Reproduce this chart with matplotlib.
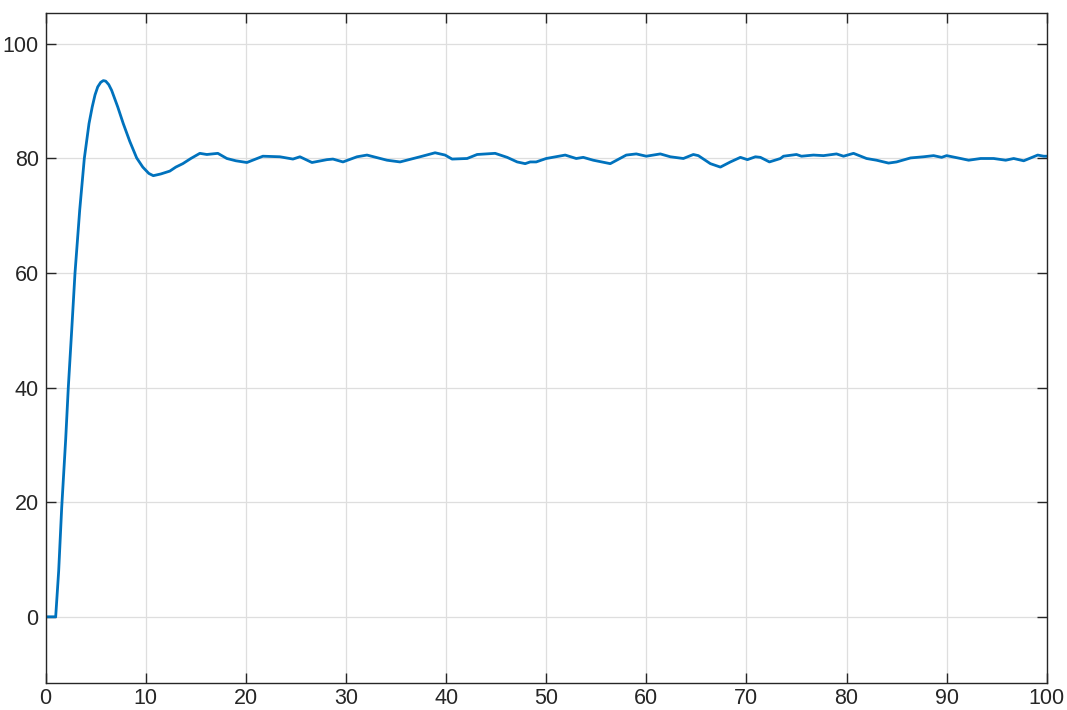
import numpy as np
import matplotlib.pyplot as plt

# step response samples (time, output)
t = [0, 1.0, 1.3, 1.6, 2.0, 2.26, 2.6, 2.93, 3.4, 3.86, 4.33, 4.65, 4.93, 5.2,
     5.5, 5.76, 6.0, 6.3, 6.59, 7.2, 7.75, 8.4, 9.09, 9.7, 10.3, 10.75, 11.5,
     12.4, 13.0, 13.7,
     14.5, 15.4, 16.1, 17.2, 18.1, 19.0, 20.1, 21.7, 23.4, 24.7, 25.4, 26.6,
     28.1, 28.7, 29.7, 31.1, 32.1, 34.1, 35.4, 37.4, 38.9, 39.9, 40.6, 42.1,
     43.1, 44.9, 46.1, 47.1, 47.9, 48.4, 49.0, 50.0, 51.9, 53.0, 53.7, 54.7,
     56.4, 58.0, 59.0, 60.0, 61.4, 62.4, 63.7, 64.7, 65.2, 66.4, 67.4, 68.4,
     69.4, 70.1, 70.9, 71.4, 72.3, 73.4, 73.7, 75.0, 75.5, 76.7, 77.7, 79.0,
     79.7, 80.7, 82.0, 83.0, 84.2, 85.0, 86.4, 87.7, 88.7, 89.5, 90.0, 91.4,
     92.2, 93.4, 94.7, 95.9, 96.7, 97.7, 99.1, 99.7, 100]
y = [0, 0, 8, 19, 31, 40, 50, 60, 71, 80, 86.1, 89.0, 91.1, 92.5,
     93.3, 93.6, 93.5, 92.9, 91.9, 89.0, 86.1, 83.0, 80.1, 78.5, 77.4, 77.0, 77.3,
     77.8, 78.5, 79.1,
     80.0, 80.9, 80.7, 80.9, 80.0, 79.6, 79.3, 80.4, 80.3, 79.9, 80.3, 79.3,
     79.8, 79.9, 79.4, 80.3, 80.6, 79.7, 79.4, 80.3, 81.0, 80.6, 79.9, 80.0,
     80.7, 80.9, 80.2, 79.4, 79.1, 79.4, 79.4, 80.0, 80.6, 80.0, 80.2, 79.7,
     79.1, 80.6, 80.8, 80.4, 80.8, 80.3, 80.0, 80.7, 80.5, 79.1, 78.5, 79.4,
     80.2, 79.8, 80.3, 80.2, 79.4, 80.0, 80.4, 80.7, 80.4, 80.6, 80.5, 80.8,
     80.4, 80.9, 80.0, 79.7, 79.2, 79.4, 80.1, 80.3, 80.5, 80.2, 80.5, 80.0,
     79.7, 80.0, 80.0, 79.7, 80.0, 79.6, 80.6, 80.4, 80.4]

plt.rcParams['font.family'] = ['Liberation Sans', 'DejaVu Sans']

fig = plt.figure(figsize=(10.67, 7.1), dpi=100)
ax = fig.add_axes([0.0428, 0.0385, 0.9382, 0.9432])

ax.plot(t, y, color='#0072BD', linewidth=2.0, solid_joinstyle='round')

ax.set_xlim(0, 100)
ax.set_ylim(-11.5, 105.4)
ax.set_xticks(np.arange(0, 101, 10))
ax.set_yticks(np.arange(0, 101, 20))

ax.grid(True, color='#dedede', linewidth=0.9)
ax.set_axisbelow(True)

for s in ax.spines.values():
    s.set_color('#262626')
    s.set_linewidth(1.0)

ax.tick_params(axis='both', direction='in', length=7, width=1.0, color='#262626',
               labelsize=15.5, labelcolor='#262626', top=True, right=True)
ax.tick_params(axis='x', pad=4)
ax.tick_params(axis='y', pad=5)

fig.savefig('out.png', dpi=100)
